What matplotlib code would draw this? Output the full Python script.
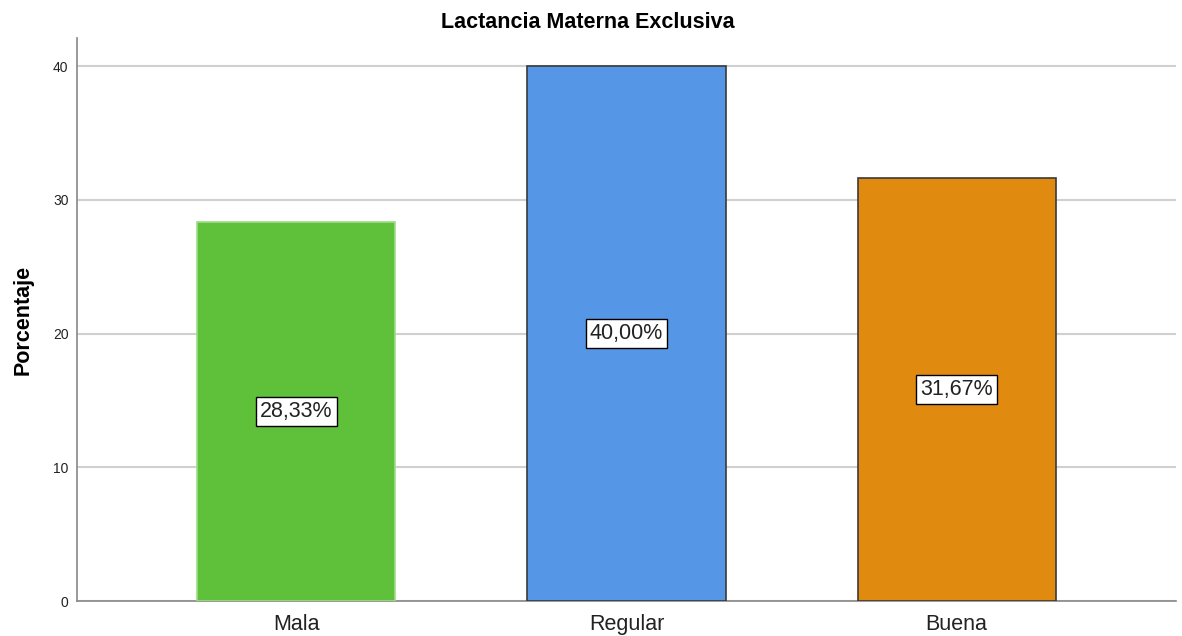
import matplotlib.pyplot as plt

plt.rcParams["font.family"] = ["Liberation Sans", "DejaVu Sans"]

categorias = ["Mala", "Regular", "Buena"]
porcentajes = [28.33, 40.00, 31.67]
colores = ["#5fc13a", "#5596e6", "#e08a10"]
bordes = ["#9fdc88", "#3a3a3a", "#3a3a3a"]

fig = plt.figure(figsize=(11.82, 6.36), dpi=100)
ax = fig.add_axes([0.0651, 0.055, 0.9299, 0.885])

x = range(len(categorias))
bars = ax.bar(x, porcentajes, width=0.6, color=colores, edgecolor=bordes,
              linewidth=1.2, zorder=3)

# etiqueta de porcentaje en el centro de cada barra
for b, v in zip(bars, porcentajes):
    ax.text(b.get_x() + b.get_width() / 2, v / 2,
            f"{v:.2f}%".replace(".", ","), ha="center", va="center",
            fontsize=15.5, color="#222222", zorder=4,
            bbox=dict(boxstyle="square,pad=0.2", fc="white", ec="black", lw=1))

ax.set_xlim(-0.665, 2.665)
ax.set_ylim(0, 42.1)
ax.set_yticks([0, 10, 20, 30, 40])
ax.set_xticks(list(x))
ax.set_xticklabels(categorias, fontsize=15.5, color="#222222")
ax.tick_params(axis="y", length=0, labelsize=10, pad=6, colors="#222222")
ax.tick_params(axis="x", length=0, pad=9)
ax.yaxis.grid(True, color="#d0d0d0", linewidth=1.5, zorder=0)

for s in ["top", "right"]:
    ax.spines[s].set_visible(False)
for s in ["left", "bottom"]:
    ax.spines[s].set_color("#888888")
    ax.spines[s].set_linewidth(1.2)

ax.set_ylabel("Porcentaje", fontsize=15.5, fontweight="bold", labelpad=14)
fig.text(0.497, 0.965, "Lactancia Materna Exclusiva", ha="center", va="center",
         fontsize=15.5, fontweight="bold")

fig.savefig("out.png", dpi=100)
